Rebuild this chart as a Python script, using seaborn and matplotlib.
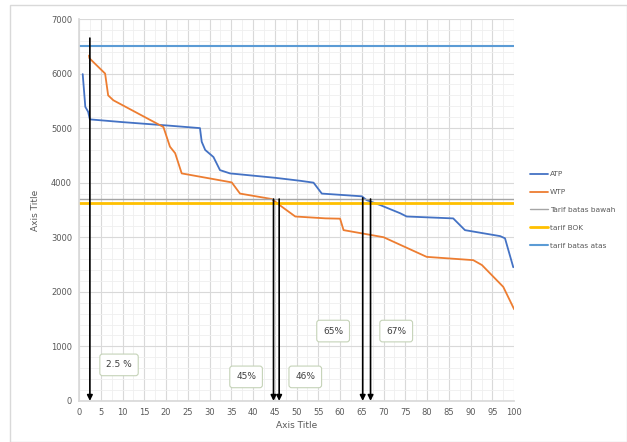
import matplotlib
matplotlib.use("Agg")
import matplotlib.pyplot as plt
import seaborn as sns
import pandas as pd
from matplotlib.patches import Rectangle
from matplotlib.ticker import MultipleLocator

# ATP / WTP curves
atp_x = [0.85, 1.45, 2.1, 2.5, 10, 20, 27.8, 28.2, 29, 30.9, 32.4, 34.7, 45, 50.8,
         53.9, 55.8, 65, 66.1, 69.2, 73.8, 75.3, 86, 88.7, 96.8, 97.9, 99.8]
atp_y = [5990, 5390, 5300, 5160, 5110, 5050, 5000, 4750, 4600, 4470, 4230, 4170, 4090, 4035,
         4000, 3800, 3750, 3680, 3590, 3440, 3380, 3345, 3130, 3020, 2980, 2450]

wtp_x = [2.3, 2.4, 6, 6.7, 7.9, 19.4, 20.9, 22.1, 23.6, 35.1, 37, 44.3, 46.6, 49.7,
         56.6, 60, 60.8, 70, 79.9, 90.6, 92.6, 97.5, 100]
wtp_y = [6330, 6280, 6000, 5600, 5510, 5020, 4660, 4540, 4170, 4005, 3800, 3700, 3560, 3380,
         3346, 3340, 3130, 3000, 2640, 2580, 2490, 2090, 1680]

tarif_bawah = 3700
tarif_bok = 3620
tarif_atas = 6500

# vertical arrows and their labels
arrow_x = [2.5, 44.7, 46, 65.2, 67]
arrow_top = [6650, 3700, 3700, 3720, 3700]
box_labels = ["2.5 %", "45%", "46%", "65%", "67%"]
box_x = [9.2, 38.4, 52, 58.4, 72.9]
box_y = [660, 440, 440, 1280, 1280]

sns.set_theme(style="white")
plt.rcParams["font.family"] = ["DejaVu Sans"]

fig = plt.figure(figsize=(6.27, 4.42), dpi=100)
ax = fig.add_axes([0.126, 0.093, 0.694, 0.864])

# chart-area border
fig.patches.append(Rectangle((0.016, 0.0), 0.984, 0.989, transform=fig.transFigure,
                             fill=False, edgecolor="#d9d9d9", linewidth=1))

atp = pd.DataFrame({"x": atp_x, "y": atp_y})
wtp = pd.DataFrame({"x": wtp_x, "y": wtp_y})

sns.lineplot(data=atp, x="x", y="y", ax=ax, color="#4472C4", lw=1.3, label="ATP")
sns.lineplot(data=wtp, x="x", y="y", ax=ax, color="#ED7D31", lw=1.3, label="WTP")
ax.axhline(tarif_bawah, color="#A5A5A5", lw=1, label="Tarif batas bawah")
ax.axhline(tarif_bok, color="#FFC000", lw=2, label="tarif BOK")
ax.axhline(tarif_atas, color="#5B9BD5", lw=1.5, label="tarif batas atas")

for xv, top in zip(arrow_x, arrow_top):
    ax.annotate("", xy=(xv, 0), xytext=(xv, top),
                arrowprops=dict(arrowstyle="-|>", color="black", lw=1.2,
                                mutation_scale=8, shrinkA=0, shrinkB=0))

for lab, bx, by in zip(box_labels, box_x, box_y):
    ax.text(bx, by, lab, ha="center", va="center", fontsize=6.5, color="#404040",
            bbox=dict(boxstyle="round,pad=0.7,rounding_size=0.3", fc="white",
                      ec="#c5d3b8", lw=0.8))

ax.set_xlim(0, 100)
ax.set_ylim(0, 7000)
ax.xaxis.set_major_locator(MultipleLocator(5))
ax.xaxis.set_minor_locator(MultipleLocator(2.5))
ax.yaxis.set_major_locator(MultipleLocator(1000))
ax.yaxis.set_minor_locator(MultipleLocator(200))
ax.grid(which="major", color="#d9d9d9", lw=0.8)
ax.grid(which="minor", color="#efefef", lw=0.6)
ax.set_axisbelow(True)
for s in ax.spines.values():
    s.set_visible(False)
ax.spines["bottom"].set_visible(True)
ax.spines["bottom"].set_color("#d9d9d9")
ax.spines["left"].set_visible(True)
ax.spines["left"].set_color("#d9d9d9")
ax.tick_params(which="both", length=0, labelsize=6, colors="#595959", pad=5)

ax.set_xlabel("Axis Title", fontsize=6.5, color="#595959", labelpad=3)
ax.set_ylabel("Axis Title", fontsize=6.5, color="#595959", labelpad=8)

leg = ax.legend(loc="center left", bbox_to_anchor=(1.03, 0.5), frameon=False,
                fontsize=5.3, handlelength=2.4, labelspacing=1.6, handletextpad=0.3,
                borderaxespad=0)
for t in leg.get_texts():
    t.set_color("#595959")

fig.savefig("out.png", dpi=100)
